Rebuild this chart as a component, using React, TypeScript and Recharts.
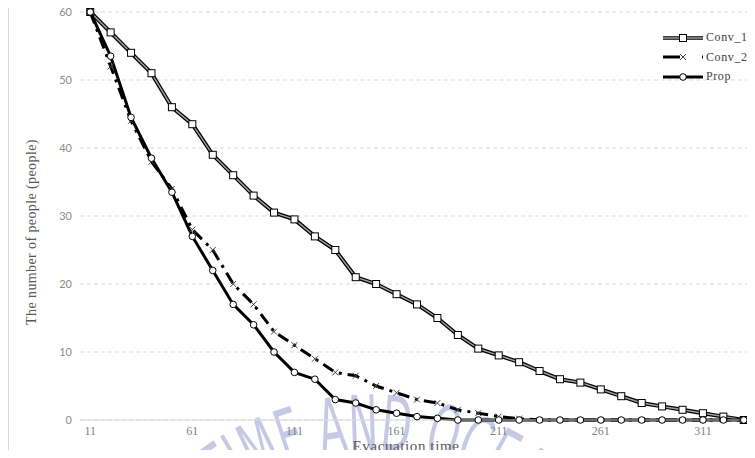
import { LineChart, Line, XAxis, YAxis, CartesianGrid } from 'recharts';

const times = [11, 21, 31, 41, 51, 61, 71, 81, 91, 101, 111, 121, 131, 141, 151, 161, 171, 181, 191, 201, 211, 221, 231, 241, 251, 261, 271, 281, 291, 301, 311, 321, 331];
const conv1 = [60, 57, 54, 51, 46, 43.5, 39, 36, 33, 30.5, 29.5, 27, 25, 21, 20, 18.5, 17, 15, 12.5, 10.5, 9.5, 8.5, 7.2, 6, 5.5, 4.5, 3.5, 2.5, 2, 1.5, 1, 0.5, 0];
const conv2 = [60, 52, 44, 38, 34, 28, 25, 20, 17, 13, 11, 9, 7, 6.5, 5, 4, 3, 2.5, 1.5, 1, 0.5, 0.2, 0, 0, 0, 0, 0, 0, 0, 0, 0, 0, 0];
const prop = [60, 53.5, 44.5, 38.5, 33.5, 27, 22, 17, 14, 10, 7, 6, 3, 2.5, 1.5, 1, 0.5, 0.25, 0, 0, 0, 0, 0, 0, 0, 0, 0, 0, 0, 0, 0, 0, 0];
const xTicks = [11, 61, 111, 161, 211, 261, 311];
const yTicks = [0, 10, 20, 30, 40, 50, 60];

const data = times.map((t, i) => ({ t, conv1: conv1[i], conv2: conv2[i], prop: prop[i] }));

const serif = '"Liberation Serif", "DejaVu Serif", serif';

const Square = (p: any) => (
  <rect key={p.index} x={p.cx - 3.5} y={p.cy - 3.5} width={7} height={7} fill="#fff" stroke="#000" strokeWidth={1} />
);
const Cross = (p: any) => (
  <path key={p.index} d={`M${p.cx - 3},${p.cy - 3}L${p.cx + 3},${p.cy + 3}M${p.cx - 3},${p.cy + 3}L${p.cx + 3},${p.cy - 3}`} stroke="#444" strokeWidth={1} fill="none" />
);
const Circle = (p: any) => (
  <circle key={p.index} cx={p.cx} cy={p.cy} r={3.3} fill="#fff" stroke="#000" strokeWidth={1} />
);

function LegendBox() {
  const row = { display: 'flex', alignItems: 'center', height: 19.5 };
  const txt = { fontFamily: serif, fontSize: 12, color: '#404040', letterSpacing: 0.6, marginLeft: 2 };
  return (
    <div style={{ position: 'absolute', left: 662, top: 28 }}>
      <div style={row}>
        <svg width={42} height={12}>
          <line x1={1} y1={6} x2={41} y2={6} stroke="#000" strokeWidth={3.5} />
          <line x1={1} y1={6} x2={41} y2={6} stroke="#a0a0a0" strokeWidth={1.5} />
          <rect x={17.5} y={2.5} width={7} height={7} fill="#fff" stroke="#000" />
        </svg>
        <span style={txt}>Conv_1</span>
      </div>
      <div style={row}>
        <svg width={42} height={12}>
          <line x1={1} y1={6} x2={41} y2={6} stroke="#000" strokeWidth={3} strokeDasharray="17 22 3 20" />
          <path d="M18,3L24,9M18,9L24,3" stroke="#444" strokeWidth={1} />
        </svg>
        <span style={txt}>Conv_2</span>
      </div>
      <div style={row}>
        <svg width={42} height={12}>
          <line x1={1} y1={6} x2={41} y2={6} stroke="#000" strokeWidth={3} />
          <circle cx={21} cy={6} r={3.3} fill="#fff" stroke="#000" />
        </svg>
        <span style={txt}>Prop</span>
      </div>
    </div>
  );
}

export default function App() {
  return (
    <div style={{ position: 'relative', width: 755, height: 458, margin: -8, overflow: 'hidden', background: '#fff' }}>
      <div style={{ position: 'absolute', left: 8, top: 6, width: 800, height: 500, border: '1px solid #d9d9d9' }} />
      <svg width={755} height={458} style={{ position: 'absolute', left: 0, top: 0, pointerEvents: 'none' }}>
        <defs>
          <path id="wm" d="M 132,690 A 240,240 0 0 1 612,690" />
        </defs>
        <text fill="#bcc0e2" fillOpacity={0.85} fontSize={76} fontFamily='"DejaVu Sans", sans-serif'>
          <textPath href="#wm" startOffset={343} textAnchor="middle" textLength={450} lengthAdjust="spacingAndGlyphs">MARITIME AND OCEAN</textPath>
        </text>
      </svg>
      <div style={{ position: 'absolute', left: 0, top: 0 }}>
        <LineChart width={755} height={458} data={data} margin={{ top: 12, right: 1, bottom: 8, left: 0 }}>
          <CartesianGrid vertical={false} stroke="#d9d9d9" strokeDasharray="4 3" />
          <XAxis
            dataKey="t"
            type="number"
            domain={[6, 336]}
            ticks={xTicks}
            tickLine={false}
            tickSize={0}
            tickMargin={6}
            height={30}
            axisLine={{ stroke: '#d9d9d9' }}
            tick={{ fill: '#7f7f7f', fontSize: 12, fontFamily: serif }}
            label={{ value: 'Evacuation  time', position: 'insideBottom', offset: -1, dx: -11, fill: '#595959', fontSize: 15, letterSpacing: 0.6, fontFamily: serif }}
          />
          <YAxis
            width={80}
            domain={[0, 60]}
            ticks={yTicks}
            axisLine={false}
            tickLine={false}
            tickSize={0}
            tickMargin={8}
            tick={{ fill: '#8c8c8c', fontSize: 11, fontFamily: 'Lato, "Open Sans", sans-serif' }}
            label={() => (
              <text x={33} y={232} transform="rotate(-90 33 232)" textAnchor="middle" dominantBaseline="middle" fill="#595959" fontSize={14} letterSpacing={0.4} fontFamily={serif}>
                The number of people (people)
              </text>
            )}
          />
          <Line dataKey="conv1" stroke="#000" strokeWidth={4} dot={false} activeDot={false} legendType="none" isAnimationActive={false} />
          <Line dataKey="conv1" name="Conv_1" stroke="#a0a0a0" strokeWidth={1.5} dot={Square} activeDot={false} isAnimationActive={false} />
          <Line dataKey="conv2" name="Conv_2" stroke="#000" strokeWidth={3} strokeDasharray="12 6 3 6" dot={Cross} activeDot={false} isAnimationActive={false} />
          <Line dataKey="prop" name="Prop" stroke="#000" strokeWidth={3} dot={Circle} activeDot={false} isAnimationActive={false} />
        </LineChart>
      </div>
      <LegendBox />
    </div>
  );
}
